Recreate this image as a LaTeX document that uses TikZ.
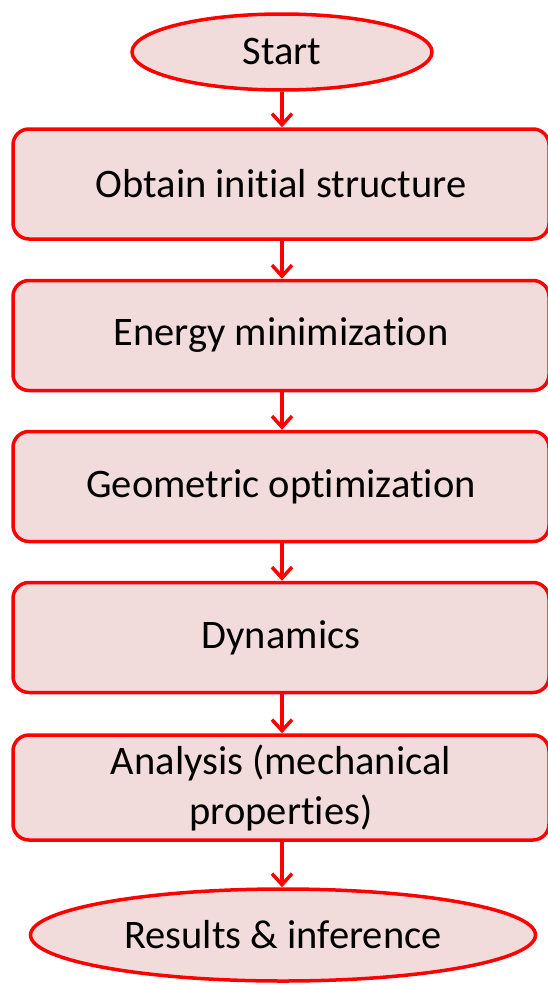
\documentclass[tikz,border=0pt]{standalone}
\usepackage{fontspec}
\setmainfont{Carlito}[Ligatures=NoCommon]
\usetikzlibrary{shapes.geometric,arrows.meta}
\definecolor{boxfill}{HTML}{F2DCDB}
\definecolor{boxline}{HTML}{FF0000}
\tikzset{
  stepbox/.style={draw=boxline, fill=boxfill, line width=3.5pt, rounded corners=16pt,
    minimum width=536pt, minimum height=110pt, inner sep=0pt, align=center,
    font=\fontsize{40.5}{50}\selectfont},
  termnode/.style={draw=boxline, fill=boxfill, line width=3.5pt, ellipse, inner sep=0pt,
    align=center, font=\fontsize{40.5}{50}\selectfont},
  flow/.style={draw=boxline, line width=3.5pt, -{Straight Barb[length=11pt,width=20pt,line width=3.5pt]}}
}
\begin{document}
\begin{tikzpicture}[x=1pt,y=1pt]
\useasboundingbox (0,0) rectangle (548,-985);
\clip (0,0) rectangle (548,-985);
\node[termnode, minimum width=300pt, minimum height=76pt] (start) at (282,-52) {Start};
\node[stepbox] (b1) at (281,-184) {Obtain initial structure};
\node[stepbox] (b2) at (281,-335.5) {Energy minimization};
\node[stepbox] (b3) at (281,-486.5) {Geometric optimization};
\node[stepbox] (b4) at (281,-637.5) {Dynamics};
\node[stepbox, minimum height=105pt] (b5) at (281,-787.5) {Analysis (mechanical\\properties)};
\node[termnode, minimum width=505pt, minimum height=92pt] (end) at (283,-935) {Results \& inference};
\draw[flow] (start.south -| 282,0) -- (b1.north -| 282,0);
\draw[flow] (b1.south -| 282,0) -- (b2.north -| 282,0);
\draw[flow] (b2.south -| 282,0) -- (b3.north -| 282,0);
\draw[flow] (b3.south -| 282,0) -- (b4.north -| 282,0);
\draw[flow] (b4.south -| 282,0) -- (b5.north -| 282,0);
\draw[flow] (b5.south -| 282,0) -- (end.north -| 282,0);
\end{tikzpicture}
\end{document}
